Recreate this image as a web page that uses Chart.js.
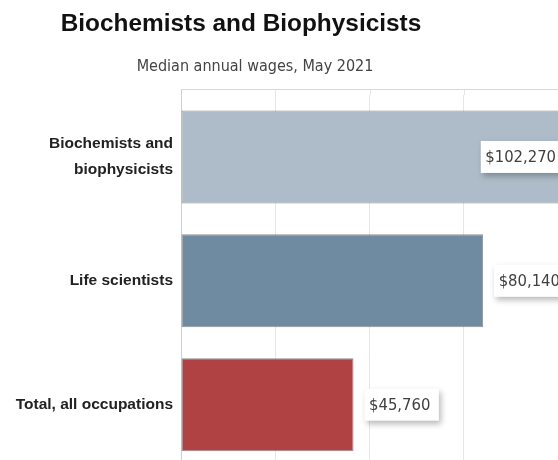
<!DOCTYPE html>
<html>
<head>
<meta charset="utf-8">
<script src="https://cdn.jsdelivr.net/npm/chart.js@4/dist/chart.umd.min.js"></script>
<style>
  html, body { margin: 0; padding: 0; background: #ffffff; overflow: hidden; }
  #wrap { width: 558px; height: 460px; overflow: hidden; position: relative; }
  canvas { display: block; }
</style>
</head>
<body>
<div id="wrap"><canvas id="c" width="558" height="501"></canvas></div>
<script>
// ---- data ----
const chartTitle = 'Biochemists and Biophysicists';
const chartSubtitle = 'Median annual wages, May 2021';
const categories = [['Biochemists and', 'biophysicists'], 'Life scientists', 'Total, all occupations'];
const wages = [102270, 80140, 45760];
const axisMin = 0;
const axisMax = 100000;
const gridStep = 25400;

// ---- style ----
const barColors = ['#adbcc8', '#6f8ba1', '#b04243'];
const labelFont = '16.5px "DejaVu Sans Condensed", "DejaVu Sans", sans-serif';

function fmt(v) { return '$' + v.toLocaleString('en-US'); }

const extras = {
  id: 'extras',
  beforeDatasetsDraw(chart) {
    const ctx = chart.ctx, a = chart.chartArea, xs = chart.scales.x;
    const topY = 89;
    ctx.save();
    ctx.strokeStyle = '#e6e6e6';
    ctx.lineWidth = 1;
    xs.ticks.forEach(t => {
      const px = Math.round(xs.getPixelForValue(t.value)) + 0.5;
      ctx.beginPath(); ctx.moveTo(px, topY); ctx.lineTo(px, a.top); ctx.stroke();
    });
    ctx.strokeStyle = '#d8d8d8';
    ctx.beginPath(); ctx.moveTo(a.left, topY + 0.5); ctx.lineTo(a.right, topY + 0.5); ctx.stroke();
    ctx.strokeStyle = '#d0d0d0';
    ctx.beginPath(); ctx.moveTo(a.left + 0.5, topY); ctx.lineTo(a.left + 0.5, chart.height); ctx.stroke();
    ctx.restore();
  },
  afterDraw(chart) {
    const ctx = chart.ctx, a = chart.chartArea, xs = chart.scales.x;
    ctx.save();
    // titles
    ctx.fillStyle = '#111111';
    ctx.font = 'bold 24.4px "Liberation Sans", Arial, sans-serif';
    ctx.textAlign = 'center';
    ctx.textBaseline = 'middle';
    ctx.fillText(chartTitle, 241, 24);
    ctx.fillStyle = '#444444';
    ctx.font = '16px "DejaVu Sans Condensed", "DejaVu Sans", sans-serif';
    ctx.fillText(chartSubtitle, 255, 67);
    // value labels
    const meta = chart.getDatasetMeta(0);
    ctx.font = labelFont;
    meta.data.forEach((bar, i) => {
      const txt = fmt(wages[i]);
      const tw = ctx.measureText(txt).width;
      const bw = tw + 13, bh = 32;
      const end = xs.getPixelForValue(wages[i]);
      let bx;
      if (wages[i] > axisMax) {
        bx = end - 2 - bw;
      } else {
        bx = end + 11;
      }
      const by = bar.y - bh / 2;
      ctx.save();
      ctx.shadowColor = 'rgba(0,0,0,0.28)';
      ctx.shadowBlur = 6;
      ctx.shadowOffsetX = 2;
      ctx.shadowOffsetY = 3;
      ctx.fillStyle = '#ffffff';
      ctx.fillRect(bx, by, bw, bh);
      ctx.restore();
      ctx.fillStyle = '#404040';
      ctx.textAlign = 'left';
      ctx.textBaseline = 'middle';
      ctx.fillText(txt, bx + 4.5, bar.y + 1);
    });
    ctx.restore();
  }
};

new Chart(document.getElementById('c'), {
  type: 'bar',
  data: {
    labels: categories,
    datasets: [{
      data: wages,
      backgroundColor: barColors,
      borderColor: 'rgba(110,110,110,0.75)',
      borderWidth: 1,
      borderSkipped: false,
      barPercentage: 0.75,
      categoryPercentage: 1.0
    }]
  },
  options: {
    indexAxis: 'y',
    responsive: false,
    animation: false,
    devicePixelRatio: 1,
    layout: { padding: { top: 95, right: 0, bottom: 13, left: 0 } },
    plugins: { legend: { display: false }, title: { display: false }, tooltip: { enabled: false } },
    scales: {
      x: {
        min: axisMin, max: axisMax,
        ticks: { display: false, stepSize: gridStep },
        grid: { color: '#e6e6e6', drawTicks: false },
        border: { display: false },
        afterFit(s) { s.height = 0; }
      },
      y: {
        grid: { display: false, drawTicks: false },
        border: { display: false },
        ticks: {
          padding: 8,
          color: '#222222',
          font: { family: '"Liberation Sans", Arial, sans-serif', size: 15.5, weight: 'bold', lineHeight: 1.7 }
        },
        afterFit(s) { s.width = 181; }
      }
    }
  },
  plugins: [extras]
});
</script>
</body>
</html>
